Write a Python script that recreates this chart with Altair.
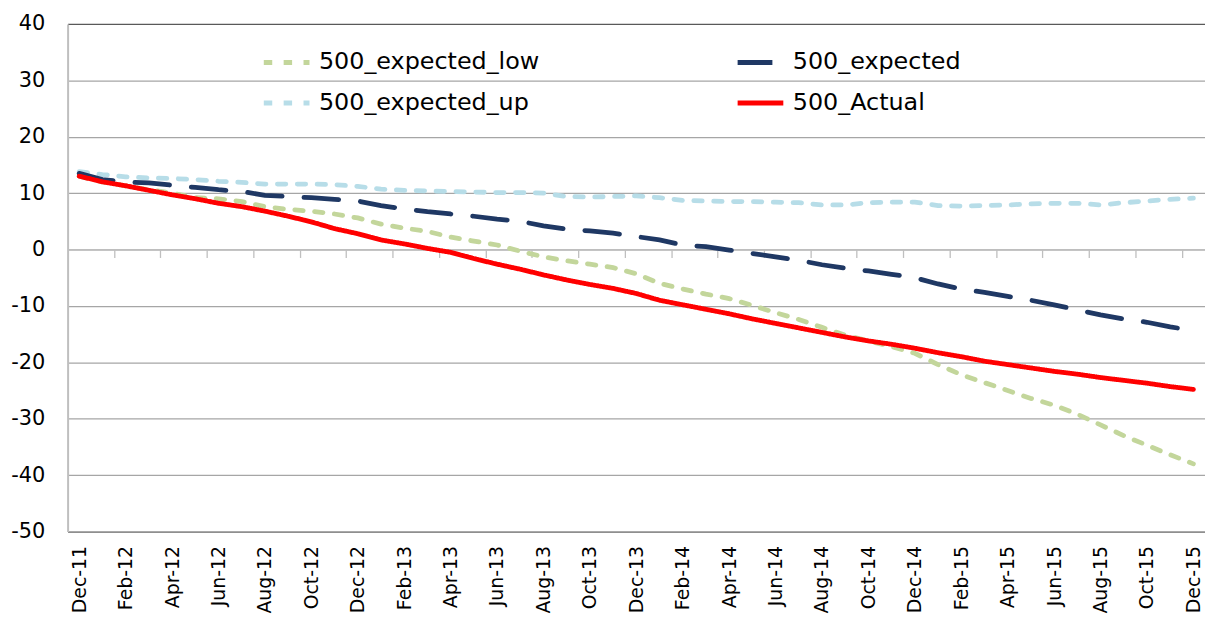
import altair as alt
import pandas as pd

months = ["Dec-11", "Jan-12", "Feb-12", "Mar-12", "Apr-12", "May-12", "Jun-12", "Jul-12",
          "Aug-12", "Sep-12", "Oct-12", "Nov-12", "Dec-12", "Jan-13", "Feb-13", "Mar-13",
          "Apr-13", "May-13", "Jun-13", "Jul-13", "Aug-13", "Sep-13", "Oct-13", "Nov-13",
          "Dec-13", "Jan-14", "Feb-14", "Mar-14", "Apr-14", "May-14", "Jun-14", "Jul-14",
          "Aug-14", "Sep-14", "Oct-14", "Nov-14", "Dec-14", "Jan-15", "Feb-15", "Mar-15",
          "Apr-15", "May-15", "Jun-15", "Jul-15", "Aug-15", "Sep-15", "Oct-15", "Nov-15",
          "Dec-15"]

expected_low = [13.0, 12.0, 11.3, 10.6, 10.0, 9.2, 9.0, 8.5, 7.6, 7.1,
                6.8, 6.3, 5.6, 4.5, 3.8, 3.2, 2.2, 1.5, 0.8, -0.3,
                -1.3, -2.0, -2.6, -3.2, -4.3, -6.0, -7.0, -7.9, -8.7, -9.9,
                -11.2, -12.4, -13.8, -15.2, -16.2, -17.2, -18.4, -20.4, -22.2, -23.6,
                -25.0, -26.4, -27.6, -29.2, -31.1, -33.0, -34.7, -36.4, -38.0]

expected_up = [13.8, 13.3, 12.9, 12.7, 12.6, 12.4, 12.1, 11.9, 11.6, 11.6,
               11.6, 11.5, 11.2, 10.7, 10.5, 10.4, 10.3, 10.2, 10.1, 10.1,
               10.0, 9.4, 9.3, 9.4, 9.5, 9.2, 8.7, 8.6, 8.5, 8.5,
               8.4, 8.3, 7.9, 7.9, 8.3, 8.4, 8.4, 7.8, 7.7, 7.8,
               7.9, 8.1, 8.2, 8.2, 7.9, 8.3, 8.6, 8.9, 9.1]

expected = [13.5, 12.4, 12.0, 11.8, 11.4, 11.0, 10.6, 10.3, 9.6, 9.4,
            9.2, 8.9, 8.6, 7.8, 7.2, 6.7, 6.3, 5.9, 5.4, 5.0,
            4.2, 3.6, 3.3, 2.9, 2.3, 1.7, 0.8, 0.5, -0.1, -0.7,
            -1.3, -1.9, -2.7, -3.3, -3.8, -4.4, -5.0, -6.1, -7.0, -7.6,
            -8.3, -9.0, -9.8, -10.7, -11.6, -12.3, -12.9, -13.7, -14.4]

actual = [13.0, 12.0, 11.3, 10.5, 9.7, 9.0, 8.2, 7.6, 6.8, 5.9,
          4.9, 3.7, 2.8, 1.7, 1.0, 0.2, -0.5, -1.6, -2.6, -3.5,
          -4.5, -5.4, -6.2, -6.9, -7.8, -9.0, -9.8, -10.6, -11.4, -12.3,
          -13.1, -13.9, -14.7, -15.5, -16.2, -16.8, -17.5, -18.3, -19.0, -19.8,
          -20.4, -21.0, -21.6, -22.1, -22.7, -23.2, -23.7, -24.3, -24.8]

# legend fills column by column: col 1 = low / up, col 2 = expected / Actual
series_names = ["500_expected_low", "500_expected_up", "500_expected", "500_Actual"]
series_colors = ["#c3d69b", "#b7dde8", "#1f3864", "#ff0000"]
series_dashes = [[8.5, 11.5], [8.5, 11.5], [35, 22], [1, 0]]
y_ticks = [-50, -40, -30, -20, -10, 0, 10, 20, 30, 40]

FONT = "DejaVu Sans"
W, H = 1145, 511
YMIN, YMAX = -50, 40
XMIN, XMAX = -0.5, len(months) - 0.5

rows = []
for name, vals in [("500_expected_low", expected_low), ("500_expected_up", expected_up),
                   ("500_expected", expected), ("500_Actual", actual)]:
    for i, v in enumerate(vals):
        rows.append({"idx": i, "series": name, "value": v})
df = pd.DataFrame(rows)

xscale = alt.Scale(domain=[XMIN, XMAX], nice=False, zero=False)
label_js = "[" + ",".join("'%s'" % m for m in months) + "]"

legend = alt.Legend(
    orient="none", legendX=195, legendY=13, columns=2, columnPadding=189,
    rowPadding=3, title=None, symbolType="stroke", symbolSize=2116,
    symbolStrokeWidth=5, labelFont=FONT, labelFontSize=24, labelColor="black",
    labelOffset=7, labelLimit=500,
)

lines = alt.Chart(df).mark_line(strokeWidth=4.8, strokeCap="round").encode(
    x=alt.X("idx:Q", scale=xscale,
            axis=alt.Axis(values=list(range(0, 49, 2)),
                          labelExpr=label_js + "[datum.value]",
                          labelAngle=-90, labelFont=FONT, labelFontSize=19,
                          labelColor="black", labelPadding=14, labelFlush=False,
                          labelOverlap=False, ticks=False, grid=False,
                          domain=True, domainColor="#808080", domainWidth=1.3,
                          title=None, orient="bottom")),
    y=alt.Y("value:Q", scale=alt.Scale(domain=[YMIN, YMAX], nice=False, zero=False),
            axis=alt.Axis(values=y_ticks, grid=True,
                          labelExpr="datum.value + ''",
                          gridColor={"condition": {"test": "datum.value === 40", "value": "#595959"},
                                     "value": "#a6a6a6"},
                          gridWidth=1.3, ticks=False, domain=True, domainColor="#bfbfbf",
                          domainWidth=2, labelFont=FONT, labelFontSize=21,
                          labelColor="black", labelPadding=23, title=None)),
    color=alt.Color("series:N", scale=alt.Scale(domain=series_names, range=series_colors),
                    legend=legend),
    strokeDash=alt.StrokeDash("series:N", scale=alt.Scale(domain=series_names, range=series_dashes),
                              legend=legend),
    detail="series:N",
)

zero_axis = alt.Chart(df).mark_point(opacity=0).encode(
    x=alt.X("idx:Q", scale=xscale,
            axis=alt.Axis(orient="bottom", offset=-H * (0 - YMIN) / (YMAX - YMIN),
                          values=[1.5 + 2 * k for k in range(24)], labels=False,
                          ticks=True, tickSize=8, tickColor="#bfbfbf", tickWidth=1.3,
                          domain=True, domainColor="#bfbfbf", domainWidth=1.3,
                          grid=False, title=None)),
)

chart = alt.layer(zero_axis, lines).resolve_axis(x="independent").properties(
    width=W, height=H,
    autosize=alt.AutoSizeParams(type="none"),
    padding={"left": 60, "top": 14, "right": 0, "bottom": 82},
    background="white",
).configure_view(stroke=None)

chart.save("out.html", embed_options={"renderer": "svg", "actions": False})
